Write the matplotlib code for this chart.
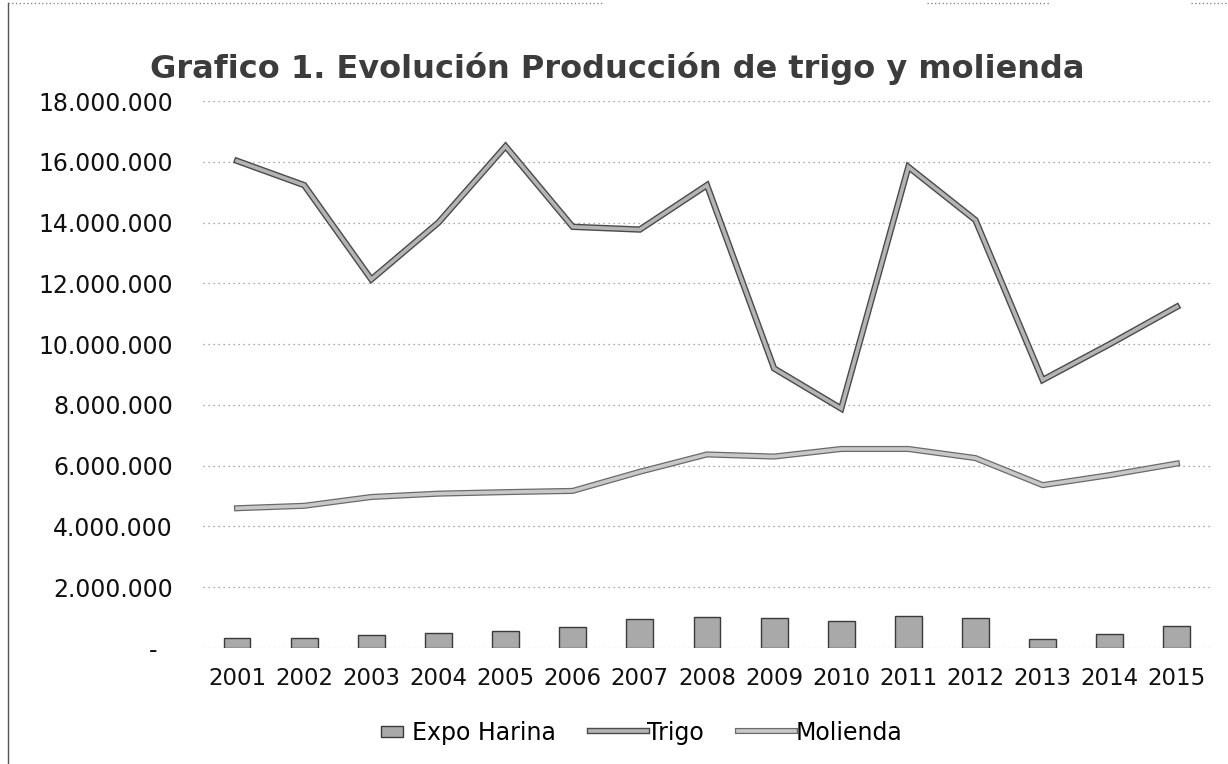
import matplotlib
matplotlib.use("Agg")
import matplotlib.pyplot as plt
import matplotlib.patheffects as pe
from matplotlib.lines import Line2D
from matplotlib.patches import Rectangle
from matplotlib.container import BarContainer
from matplotlib.legend_handler import HandlerPatch
from matplotlib.ticker import FuncFormatter, MultipleLocator
import numpy as np

# Data (toneladas)
years = ["2001", "2002", "2003", "2004", "2005", "2006", "2007", "2008",
         "2009", "2010", "2011", "2012", "2013", "2014", "2015"]
expo_harina = [330000, 330000, 430000, 480000, 550000, 680000, 950000, 1020000,
               990000, 890000, 1050000, 990000, 300000, 460000, 720000]
trigo = [16030000, 15230000, 12130000, 14000000, 16510000, 13860000, 13770000, 15230000,
         9200000, 7880000, 15830000, 14080000, 8820000, 10000000, 11230000]
molienda = [4600000, 4680000, 4970000, 5080000, 5130000, 5170000, 5800000, 6370000,
            6300000, 6550000, 6550000, 6250000, 5360000, 5690000, 6070000]

title = "Grafico 1. Evolución Producción de trigo y molienda"

plt.rcParams["font.family"] = ["DejaVu Sans"]

fig = plt.figure(figsize=(12.28, 7.64), dpi=100)
ax = fig.add_axes([0.1657, 0.1518, 0.82, 0.716])

x = np.arange(len(years))

bars = ax.bar(x, expo_harina, width=0.4, color="#a9a9a9", edgecolor="#3a3a3a",
              linewidth=1.0, label="Expo Harina", zorder=3)

trigo_line, = ax.plot(x, trigo, color="#b4b4b4", linewidth=2.6, label="Trigo", zorder=4,
                      solid_joinstyle="miter",
                      path_effects=[pe.Stroke(linewidth=4.6, foreground="#4a4a4a"), pe.Normal()])
mol_line, = ax.plot(x, molienda, color="#c8c8c8", linewidth=2.6, label="Molienda", zorder=4,
                    solid_joinstyle="round",
                    path_effects=[pe.Stroke(linewidth=4.4, foreground="#6a6a6a"), pe.Normal()])

ax.set_xlim(-0.5, len(years) - 0.5)
ax.set_ylim(0, 18000000)
ax.yaxis.set_major_locator(MultipleLocator(2000000))


def fmt(v, pos):
    if v == 0:
        return "-  "
    return f"{int(round(v)):,}".replace(",", ".")


ax.yaxis.set_major_formatter(FuncFormatter(fmt))
ax.set_xticks(x)
ax.set_xticklabels(years)
ax.tick_params(axis="both", length=0, colors="#111111")
ax.tick_params(axis="y", pad=22, labelsize=17)
ax.tick_params(axis="x", pad=14, labelsize=16.5)

ax.grid(axis="y", linestyle=(0, (1, 3)), color="#8c8c8c", linewidth=0.9, zorder=0)
for s in ax.spines.values():
    s.set_visible(False)

fig.text(0.503, 0.91, title, ha="center", va="center", fontsize=23,
         fontweight="bold", color="#3c3c3c")


def small_box(legend, orig_handle, xdescent, ydescent, width, height, fontsize):
    w = 0.40 * width
    h = 0.7 * height
    return Rectangle((width - w - xdescent - 6, -ydescent + (height - h) / 2), w, h)


def style_box(legend_handle, orig_handle):
    legend_handle.update_from(orig_handle[0])


leg = fig.legend(handles=[bars, trigo_line, mol_line], loc="center",
                 bbox_to_anchor=(0.512, 0.041), ncol=3, frameon=False,
                 fontsize=17, handlelength=2.4, handletextpad=0.02,
                 columnspacing=1.45,
                 handler_map={BarContainer: HandlerPatch(patch_func=small_box,
                                                         update_func=style_box)})

# page border of the figure frame
fig.add_artist(Line2D([0.0065, 0.0065], [0.0, 0.996], color="#555555", linewidth=1.0))
for x0, x1 in [(0.0065, 0.49), (0.755, 0.855), (0.97, 1.0)]:
    fig.add_artist(Line2D([x0, x1], [0.996, 0.996], color="#777777", linewidth=0.9,
                          linestyle=(0, (1, 2))))

fig.savefig("out.png", dpi=100)
